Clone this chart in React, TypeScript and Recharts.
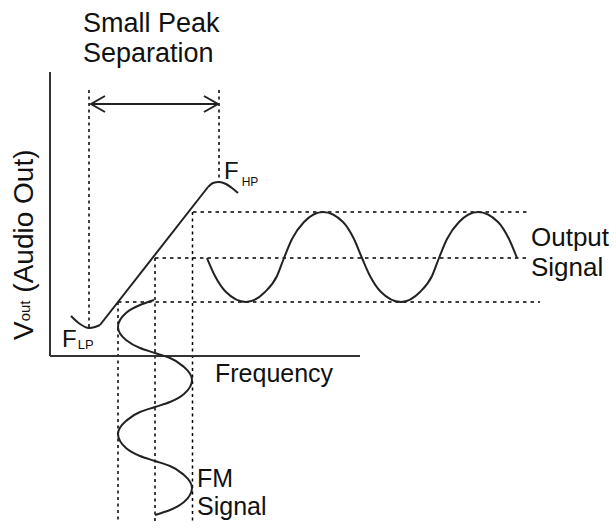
import React from "react";
import { ScatterChart, Scatter, XAxis, YAxis, ReferenceLine, ReferenceDot } from "recharts";

// f = frequency, v = V_out; both measured from the point where the axes meet
const freqDomain = [-50, 566];
const voutDomain = [-172, 356];

// discriminator S-curve, in three pieces: low-peak dip, linear slope, high peak
const transferDip = [
  { f: 21, v: 40 },
  { f: 30, v: 32 },
  { f: 39, v: 28 },
  { f: 45, v: 29 },
  { f: 50, v: 31 },
];
const transferSlope = [
  { f: 50, v: 31 },
  { f: 158, v: 169 },
];
const transferPeak = [
  { f: 158, v: 169 },
  { f: 163, v: 173 },
  { f: 169, v: 174 },
  { f: 176, v: 172 },
  { f: 182, v: 168 },
  { f: 188, v: 163 },
];

const outputSignal = [
  { f: 157, v: 98 },
  { f: 165, v: 80 },
  { f: 176, v: 64 },
  { f: 196, v: 54 },
  { f: 215, v: 64 },
  { f: 227, v: 80 },
  { f: 234, v: 98 },
  { f: 242, v: 117 },
  { f: 254, v: 134 },
  { f: 273, v: 144 },
  { f: 293, v: 134 },
  { f: 304, v: 117 },
  { f: 312, v: 98 },
  { f: 320, v: 80 },
  { f: 331, v: 64 },
  { f: 351, v: 54 },
  { f: 370, v: 64 },
  { f: 382, v: 80 },
  { f: 389, v: 98 },
  { f: 397, v: 117 },
  { f: 409, v: 134 },
  { f: 428, v: 144 },
  { f: 448, v: 134 },
  { f: 459, v: 117 },
  { f: 467, v: 98 },
];

const fmSignal = [
  { f: 104, v: 56 },
  { f: 90, v: 51 },
  { f: 76, v: 43 },
  { f: 68, v: 29 },
  { f: 76, v: 16 },
  { f: 90, v: 8 },
  { f: 105, v: 3 },
  { f: 120, v: -2 },
  { f: 134, v: -11 },
  { f: 142, v: -24 },
  { f: 134, v: -38 },
  { f: 120, v: -46 },
  { f: 105, v: -51 },
  { f: 90, v: -56 },
  { f: 76, v: -65 },
  { f: 68, v: -78 },
  { f: 76, v: -92 },
  { f: 90, v: -100 },
  { f: 105, v: -105 },
  { f: 120, v: -110 },
  { f: 134, v: -119 },
  { f: 142, v: -132 },
  { f: 134, v: -146 },
  { f: 120, v: -154 },
  { f: 105, v: -159 },
];

const arrowShaft = [
  { f: 41, v: 252 },
  { f: 168, v: 252 },
];
const arrowHeadLeft = [
  { f: 55, v: 260 },
  { f: 41, v: 252 },
  { f: 55, v: 244 },
];
const arrowHeadRight = [
  { f: 154, v: 260 },
  { f: 168, v: 252 },
  { f: 154, v: 244 },
];

// dotted guides
const guidesVertical = [
  { f: 39, from: 266, to: 28 },
  { f: 169, from: 266, to: 174 },
  { f: 68, from: 54, to: -167 },
  { f: 105, from: 98, to: -167 },
  { f: 142.5, from: 144, to: -167 },
];
const guidesHorizontal = [
  { v: 144, from: 143, to: 480 },
  { v: 98, from: 105, to: 477 },
  { v: 54, from: 68, to: 490 },
];

const font = '"Liberation Sans", Arial, Helvetica, sans-serif';
const ink = "#111";
const curve = { stroke: "#222", strokeWidth: 2, fill: "none" };
const noDot = () => <g />;

function textAt(key: string, f: number, v: number, draw: (x: number, y: number) => React.ReactNode) {
  return (
    <ReferenceDot
      key={key}
      x={f}
      y={v}
      r={0}
      fill="none"
      stroke="none"
      ifOverflow="visible"
      label={(p: any) => <g>{draw(p.viewBox.x, p.viewBox.y)}</g>}
    />
  );
}

export default function App() {
  return (
    <div style={{ position: "absolute", left: 0, top: 0 }}>
      <ScatterChart width={616} height={528} margin={{ top: 0, right: 0, bottom: 0, left: 0 }}>
        <XAxis type="number" dataKey="f" domain={freqDomain} hide allowDataOverflow />
        <YAxis type="number" dataKey="v" domain={voutDomain} hide allowDataOverflow />

        {guidesVertical.map((g, i) => (
          <ReferenceLine
            key={"gv" + i}
            segment={[{ x: g.f, y: g.from }, { x: g.f, y: g.to }]}
            stroke="#000"
            strokeWidth={1.5}
            strokeDasharray="3 3.5"
          />
        ))}
        {guidesHorizontal.map((g, i) => (
          <ReferenceLine
            key={"gh" + i}
            segment={[{ x: g.from, y: g.v }, { x: g.to, y: g.v }]}
            stroke="#000"
            strokeWidth={1.5}
            strokeDasharray="3.5 4"
          />
        ))}

        {/* axes */}
        <ReferenceLine segment={[{ x: 0, y: 0 }, { x: 0, y: 284 }]} stroke="#333" strokeWidth={2} />
        <ReferenceLine segment={[{ x: 0, y: 0 }, { x: 310, y: 0 }]} stroke="#333" strokeWidth={2} />

        <Scatter data={transferDip} line={curve} lineJointType="monotoneX" shape={noDot} isAnimationActive={false} />
        <Scatter data={transferSlope} line={curve} shape={noDot} isAnimationActive={false} />
        <Scatter data={transferPeak} line={curve} lineJointType="monotoneX" shape={noDot} isAnimationActive={false} />
        <Scatter data={outputSignal} line={curve} lineJointType="monotoneX" shape={noDot} isAnimationActive={false} />
        <Scatter data={fmSignal} line={curve} lineJointType="monotoneY" shape={noDot} isAnimationActive={false} />
        <Scatter data={arrowShaft} line={curve} shape={noDot} isAnimationActive={false} />
        <Scatter data={arrowHeadLeft} line={curve} shape={noDot} isAnimationActive={false} />
        <Scatter data={arrowHeadRight} line={curve} shape={noDot} isAnimationActive={false} />

        {textAt("t1", 33, 324, (x, y) => (
          <text x={x} y={y} fontFamily={font} fontSize={27} fill={ink}>Small Peak</text>
        ))}
        {textAt("t2", 33, 294, (x, y) => (
          <text x={x} y={y} fontFamily={font} fontSize={27} fill={ink}>Separation</text>
        ))}
        {textAt("t3", -17, 16, (x, y) => (
          <text x={x} y={y} transform={`rotate(-90 ${x} ${y})`} fontFamily={font} fontSize={28} fill={ink}>
            V<tspan fontSize={15} dy={-3}>out</tspan>
            <tspan dy={3}> (Audio Out)</tspan>
          </text>
        ))}
        {textAt("t4", 174, 177, (x, y) => (
          <text x={x} y={y} fontFamily={font} fontSize={24} fill={ink}>
            F<tspan fontSize={12} dx={3} dy={7}>HP</tspan>
          </text>
        ))}
        {textAt("t5", 12, 9, (x, y) => (
          <text x={x} y={y} fontFamily={font} fontSize={24} fill={ink}>
            F<tspan fontSize={13} dx={1} dy={2}>LP</tspan>
          </text>
        ))}
        {textAt("t6", 165, -26, (x, y) => (
          <text x={x} y={y} fontFamily={font} fontSize={25} fill={ink}>Frequency</text>
        ))}
        {textAt("t7", 481, 110, (x, y) => (
          <text x={x} y={y} fontFamily={font} fontSize={26} fill={ink}>Output</text>
        ))}
        {textAt("t8", 481, 80, (x, y) => (
          <text x={x} y={y} fontFamily={font} fontSize={26} fill={ink}>Signal</text>
        ))}
        {textAt("t9", 147, -131, (x, y) => (
          <text x={x} y={y} fontFamily={font} fontSize={25} fill={ink}>FM</text>
        ))}
        {textAt("t10", 147, -159, (x, y) => (
          <text x={x} y={y} fontFamily={font} fontSize={25} fill={ink}>Signal</text>
        ))}
      </ScatterChart>
    </div>
  );
}
